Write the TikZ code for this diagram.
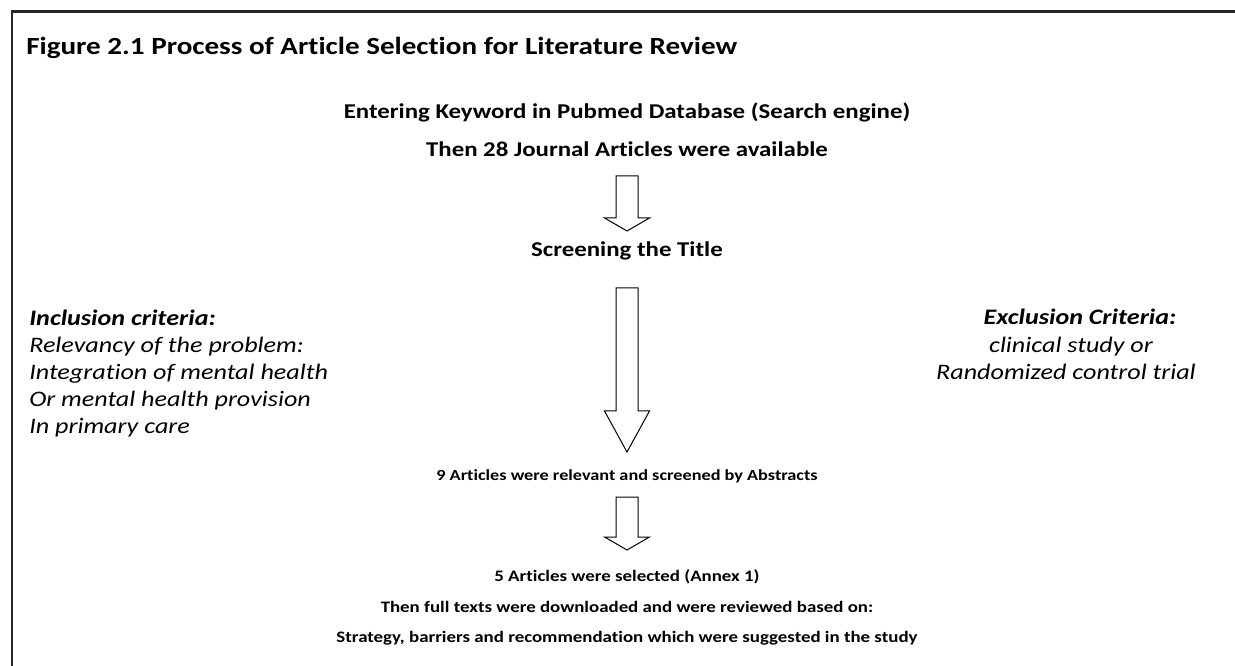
\documentclass[tikz,border=0pt]{standalone}
\usepackage{fontspec}
\setmainfont{Carlito}[Ligatures=NoCommon, FakeStretch=1.18]
\usetikzlibrary{positioning}

\tikzset{
  heading/.style={font=\bfseries\fontsize{15.8}{19}\selectfont, inner sep=0pt, anchor=base},
  subhead/.style={font=\bfseries\fontsize{11.6}{14}\selectfont, inner sep=0pt, anchor=base},
  lastline/.style={font=\bfseries\fontsize{12}{14}\selectfont, inner sep=0pt, anchor=base},
  criteria/.style={font=\itshape\fontsize{16.6}{20.25}\selectfont, inner sep=0pt},
  blockarrow/.style={draw, line width=0.75pt, line join=miter},
  frameline/.style={line width=1.7pt, black!85},
}

\begin{document}
\begin{tikzpicture}[x=0.75pt, y=-0.75pt]
    \useasboundingbox (0,0) rectangle (1235,666);
    % frame: only the top and left rules are visible
    \coordinate (fr0) at (12,666);
    \coordinate (fr1) at (12,11.5);
    \coordinate (fr2) at (1235,11.5);
    \draw[frameline] (fr0) -- (fr1) -- (fr2);

    \node[font=\bfseries\fontsize{18.5}{22}\selectfont, inner sep=0pt, anchor=base west]
      (title) at (26,55) {Figure 2.1 Process of Article Selection for Literature Review};

    \node[heading] (keyword) at (627,119) {Entering Keyword in Pubmed Database (Search engine)};
    \node[heading] (found) at (627,157) {Then 28 Journal Articles were available};
    \node[heading] (screen) at (627,257) {Screening the Title};
    \node[subhead] (relevant) at (627,480) {9 Articles were relevant and screened by Abstracts};
    \node[lastline] (selected) at (627,581) {5 Articles were selected (Annex 1)};
    \node[lastline] (fulltext) at (627,612) {Then full texts were downloaded and were reviewed based on:};
    \node[lastline] (strategy) at (627,642) {Strategy, barriers and recommendation which were suggested in the study};

    % inclusion and exclusion criteria
    \node[criteria, anchor=north west, align=left] (incl) at (29,310)
      {\textbf{Inclusion criteria:}\\ Relevancy of the problem:\\ Integration of mental health\\
       Or mental health provision\\ In primary care};
    \node[criteria, anchor=base] (excl) at (1080,325) {\textbf{Exclusion Criteria:}};
    \node[criteria, anchor=base] (excl1) at (1071,353) {clinical study or};
    \node[criteria, anchor=base] (excl2) at (1066,380) {Randomized control trial};

    % block arrows between the steps
    \coordinate (a1) at (627,176);
    \coordinate (a2) at (627,288);
    \coordinate (a3) at (627,497);
    \draw[blockarrow] (a1) ++(-11,0) -- ++(22,0) -- ++(0,42) -- ++(11.5,0)
      -- ++(-22.5,13) -- ++(-22.5,-13) -- ++(11.5,0) -- cycle;
    \draw[blockarrow] (a2) ++(-11,0) -- ++(22,0) -- ++(0,123) -- ++(11.5,0)
      -- ++(-22.5,41) -- ++(-22.5,-41) -- ++(11.5,0) -- cycle;
    \draw[blockarrow] (a3) ++(-11,0) -- ++(22,0) -- ++(0,40) -- ++(11.5,0)
      -- ++(-22.5,13) -- ++(-22.5,-13) -- ++(11.5,0) -- cycle;
\end{tikzpicture}
\end{document}
